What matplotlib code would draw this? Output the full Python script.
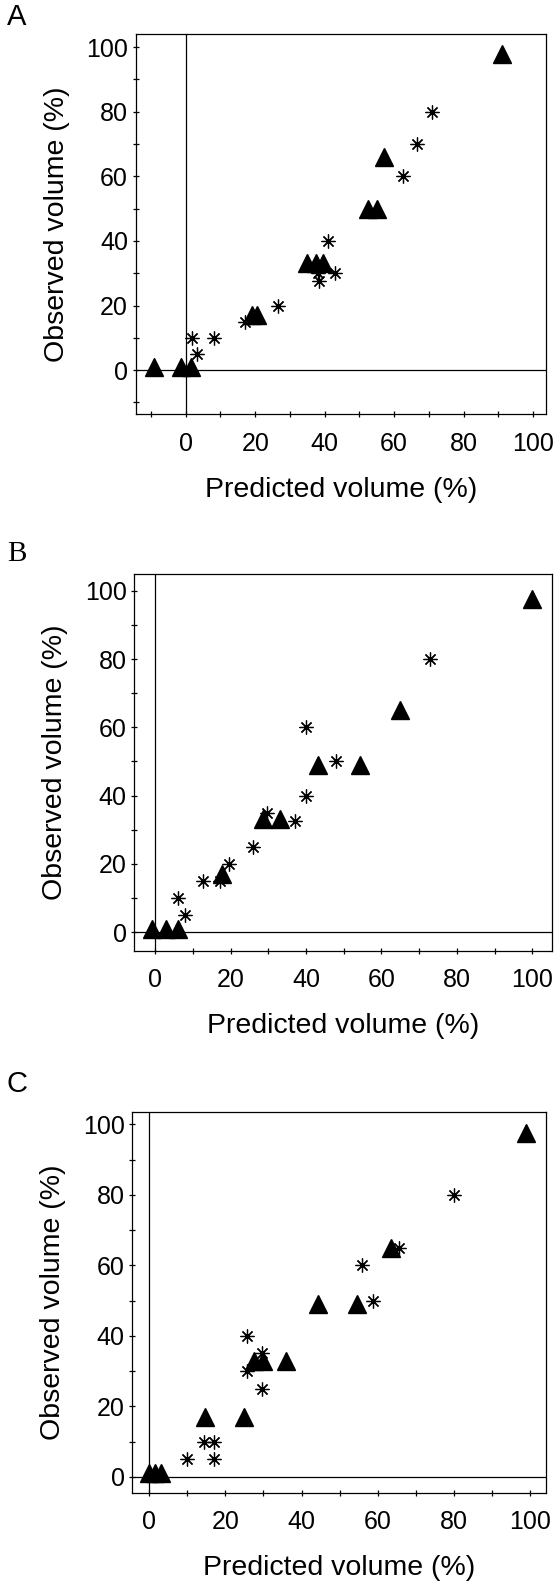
import matplotlib
matplotlib.use("Agg")
import matplotlib.pyplot as plt
from matplotlib.ticker import MultipleLocator

plt.rcParams["font.family"] = ["Liberation Sans", "DejaVu Sans"]

# ── Panel A data ──
a_tri_x = [-9, -1.4, 1.5, 19, 20.5, 35, 37.5, 39.5, 52.5, 55, 57, 91]
a_tri_y = [1, 1, 1, 17, 17, 33.3, 33.3, 33.3, 50, 50, 66, 98]
a_star_x = [1.7, 3.2, 8.2, 17, 26.5, 38, 38.3, 43, 41, 62.5, 66.5, 71]
a_star_y = [10, 5, 10, 15, 20, 30, 27.5, 30, 40, 60, 70, 80]

# ── Panel B data ──
b_tri_x = [-0.9, 2.8, 6.2, 17.7, 28.7, 33, 43.3, 54.3, 65, 100]
b_tri_y = [1, 1, 1, 17, 33, 33, 49, 49, 65, 97.5]
b_star_x = [6, 8, 12.8, 17.2, 19.7, 26, 29.6, 37, 40, 40, 48, 73]
b_star_y = [10, 5, 15, 15, 20, 25, 35, 32.5, 40, 60, 50, 80]

# ── Panel C data ──
c_tri_x = [0, 1.6, 3.1, 14.7, 24.8, 27.5, 30, 36, 44.4, 54.5, 63.5, 99]
c_tri_y = [1, 1, 1, 17, 17, 33, 33, 33, 49, 49, 65, 97.5]
c_star_x = [10, 17, 14.3, 17, 25.6, 29.6, 29.6, 25.8, 56, 58.7, 65.6, 80]
c_star_y = [5, 5, 10, 10, 30, 25, 35, 40, 60, 50, 65, 80]

fig = plt.figure(figsize=(5.59, 15.87), dpi=100, facecolor="white")

panels = [
    # rect, xlim, ylim, data, letter, letter pos, letter font
    ([0.2428, 0.7389, 0.7339, 0.2395], (-14.4, 103.7), (-13.7, 104),
     (a_tri_x, a_tri_y, a_star_x, a_star_y), "A", (0.012, 0.989), "Liberation Sans"),
    ([0.2403, 0.4008, 0.7477, 0.2375], (-5.5, 105.3), (-5.5, 104.9),
     (b_tri_x, b_tri_y, b_star_x, b_star_y), "B", (0.012, 0.651), "Liberation Serif"),
    ([0.2367, 0.0594, 0.7396, 0.2399], (-4.4, 104.1), (-4.5, 103.5),
     (c_tri_x, c_tri_y, c_star_x, c_star_y), "C", (0.012, 0.317), "Liberation Sans"),
]

for rect, xlim, ylim, (tx, ty, sx, sy), letter, lpos, lfont in panels:
    ax = fig.add_axes(rect)
    ax.set_xlim(*xlim)
    ax.set_ylim(*ylim)
    ax.axhline(0, color="black", lw=0.9, zorder=1)
    ax.axvline(0, color="black", lw=0.9, zorder=1)
    ax.plot(sx, sy, linestyle="none", marker=(8, 2, 0), markersize=10,
            markeredgecolor="black", markeredgewidth=0.9, zorder=2)
    ax.plot(tx, ty, linestyle="none", marker="^", markersize=13.5,
            color="black", zorder=3)

    ax.xaxis.set_major_locator(MultipleLocator(20))
    ax.xaxis.set_minor_locator(MultipleLocator(10))
    ax.yaxis.set_major_locator(MultipleLocator(20))
    ax.yaxis.set_minor_locator(MultipleLocator(10))
    ax.tick_params(which="both", direction="inout", length=5, width=0.9,
                   labelsize=18, pad=3)
    ax.tick_params(axis="x", pad=10)
    for sp in ax.spines.values():
        sp.set_linewidth(0.9)

    ax.set_xlabel("Predicted volume (%)", fontsize=20.5, labelpad=15)
    ax.set_ylabel("Observed volume (%)", fontsize=20.5, labelpad=12)

    fig.text(lpos[0], lpos[1], letter, fontsize=21, family=lfont,
             ha="left", va="center")

fig.savefig("out.png", dpi=100, facecolor="white")
plt.close(fig)
